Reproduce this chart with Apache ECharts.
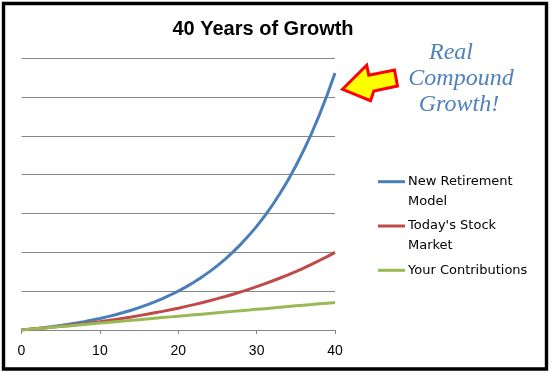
<!DOCTYPE html>
<html>
<head>
<meta charset="utf-8">
<script src="https://cdn.jsdelivr.net/npm/echarts@6/dist/echarts.min.js"></script>
<style>
html,body{margin:0;padding:0;background:#fff;}
#chart{width:551px;height:374px;}
</style>
</head>
<body>
<div id="chart"></div>
<script>
const chartTitle = '40 Years of Growth';
const years = [0,1,2,3,4,5,6,7,8,9,10,11,12,13,14,15,16,17,18,19,20,21,22,23,24,25,26,27,28,29,30,31,32,33,34,35,36,37,38,39,40];
const seriesNames = ['New Retirement Model', "Today's Stock Market", 'Your Contributions'];
const legendLabels = ['New Retirement\nModel', "Today's Stock\nMarket", 'Your Contributions'];
const seriesColors = ['#4A7EBB', '#BE4B48', '#98B954'];
const newRetirementModel = [0,1.0,2.1,3.2,4.5,5.9,7.4,9.0,10.8,12.8,14.9,17.2,19.7,22.5,25.5,28.8,32.3,36.2,40.5,45.1,50.1,55.6,61.6,68.1,75.2,83.0,91.4,100.6,110.7,121.6,133.5,146.5,160.7,176.1,193.0,211.3,231.3,253.1,276.9,302.8,331.0];
const todaysStockMarket = [0,0.9,1.8,2.7,3.7,4.8,5.9,7.0,8.2,9.5,10.8,12.2,13.7,15.2,16.8,18.5,20.2,22.1,24.0,26.0,28.1,30.4,32.7,35.1,37.7,40.4,43.2,46.1,49.2,52.4,55.8,59.4,63.1,67.0,71.1,75.3,79.8,84.5,89.5,94.6,100.0];
const yourContributions = [0,0.9,1.8,2.7,3.6,4.4,5.3,6.2,7.1,8.0,8.9,9.8,10.7,11.5,12.4,13.3,14.2,15.1,16.0,16.9,17.8,18.6,19.5,20.4,21.3,22.2,23.1,24.0,24.9,25.7,26.6,27.5,28.4,29.3,30.2,31.1,32.0,32.8,33.7,34.6,35.5];
const xMin = 0, xMax = 40, xStep = 10;
const yMin = 0, yMax = 350, yStep = 50;
const annotationLines = ['Real', 'Compound', 'Growth!'];

const allValues = [newRetirementModel, todaysStockMarket, yourContributions];

const chart = echarts.init(document.getElementById('chart'), null, {renderer: 'canvas'});

const series = allValues.map((vals, i) => ({
  name: seriesNames[i],
  type: 'line',
  data: years.map((y, k) => [y, vals[k]]),
  showSymbol: false,
  symbol: 'none',
  smooth: false,
  lineStyle: {color: seriesColors[i], width: 3},
  itemStyle: {color: seriesColors[i]},
  z: 2 + i,
  animation: false
}));

const graphics = [];
// outer frame
graphics.push({
  type: 'rect', z: 100,
  shape: {x: 3.5, y: 3.5, width: 543, height: 365.5},
  style: {fill: 'none', stroke: '#000', lineWidth: 3.4}
});
// legend
const legendY = [181.7, 226, 270.3];
legendLabels.forEach((lab, i) => {
  graphics.push({
    type: 'line', z: 50,
    shape: {x1: 378, y1: legendY[i], x2: 405, y2: legendY[i]},
    style: {stroke: seriesColors[i], lineWidth: 3}
  });
  graphics.push({
    type: 'text', z: 50,
    x: 408, y: legendY[i] - 9.75,
    style: {text: lab, font: '13px "DejaVu Sans"', fill: '#000', lineHeight: 19.5, verticalAlign: 'top', align: 'left'}
  });
});
// annotation text
const annPos = [[451, 53], [461, 79], [459, 105]];
annotationLines.forEach((t, i) => {
  graphics.push({
    type: 'text', z: 50,
    x: annPos[i][0], y: annPos[i][1],
    style: {text: t, font: 'italic 24px "Liberation Serif"', fill: '#4F81BD', align: 'center', verticalAlign: 'middle'}
  });
});
// arrow
graphics.push({
  type: 'polygon', z: 60,
  shape: {points: [[342.5,89.3],[366.7,65.3],[368.8,75.3],[394.5,70],[397.5,86],[373.8,91],[370.5,100.7]]},
  style: {fill: '#FFFF00', stroke: '#FF0000', lineWidth: 3, lineJoin: 'miter'}
});

chart.setOption({
  animation: false,
  backgroundColor: '#fff',
  title: {
    text: chartTitle,
    left: 258, top: 14, textAlign: 'center',
    textStyle: {fontFamily: 'Liberation Sans', fontWeight: 'bold', fontSize: 20, color: '#000'}
  },
  grid: {left: 21.5, right: 216, top: 58.3, bottom: 44, containLabel: false},
  xAxis: {
    type: 'value', min: xMin, max: xMax, interval: xStep,
    axisLine: {show: true, lineStyle: {color: '#868686', width: 1}},
    axisTick: {show: true, length: 4, lineStyle: {color: '#868686'}},
    axisLabel: {color: '#000', fontFamily: 'Liberation Sans', fontSize: 14, margin: 14},
    splitLine: {show: false}
  },
  yAxis: {
    type: 'value', min: yMin, max: yMax, interval: yStep,
    axisLine: {show: false}, axisTick: {show: false}, axisLabel: {show: false},
    splitLine: {show: true, lineStyle: {color: '#868686', width: 1}}
  },
  series: series,
  graphic: graphics
});
</script>
</body>
</html>
